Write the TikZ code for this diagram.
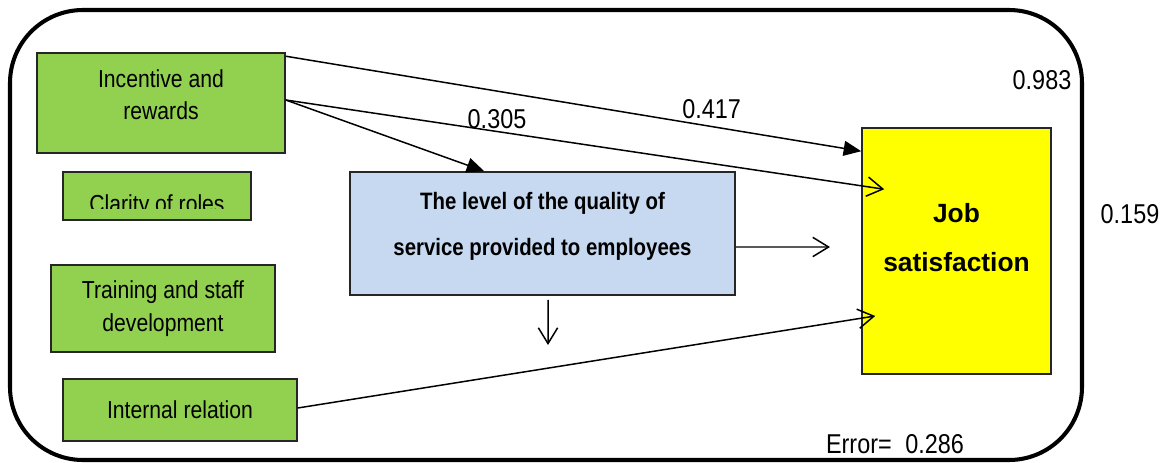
\documentclass[tikz,border=0pt]{standalone}
\usepackage{fontspec}
\setmainfont{Liberation Sans}[FakeStretch=0.86]
\newfontfamily\jobfont{Liberation Sans}
\usepackage{tikz}
\usetikzlibrary{positioning,calc,arrows.meta}
\definecolor{boxgreen}{HTML}{92D050}
\definecolor{boxblue}{HTML}{C6D9F1}
\definecolor{boxyellow}{HTML}{FFFF00}
\tikzset{factor/.style={draw=black!85, line width=0.9pt, fill=boxgreen, align=center, inner sep=0pt, font=\fontsize{14}{18.7}\selectfont}}
\tikzset{mediator/.style={draw=black!85, line width=0.9pt, fill=boxblue, align=center, inner sep=0pt, font=\fontsize{13.5}{26}\selectfont\bfseries}}
\tikzset{outcome/.style={draw=black!85, line width=0.9pt, fill=boxyellow, align=center, inner sep=0pt, font=\jobfont\fontsize{15}{27.8}\selectfont\bfseries}}
\tikzset{coef/.style={inner sep=0pt, font=\fontsize{15.5}{18}\selectfont}}
\tikzset{solidarr/.style={draw, line width=0.85pt, -{Triangle[length=10pt, width=8.5pt]}}}
\tikzset{openarr/.style={draw, line width=0.85pt, -{Straight Barb[length=9pt, width=11pt]}}}

\begin{document}
\begin{tikzpicture}[x=0.02cm, y=-0.02cm]
	\useasboundingbox (0,0) rectangle (1171,463);
	\draw[line width=2.3pt, rounded corners=1.46cm] (10,10) rectangle (1082,460);

	\node[factor, minimum width=4.96cm, minimum height=2cm, text depth=9.6pt](incent) at (161,103) {Incentive and\\ rewards};
	\node[factor, minimum width=3.76cm, minimum height=0.96cm](clarity) at (157,196) {};
	\begin{scope}
		\clip (clarity.north west) rectangle ($(clarity.east)+(0,12)$);
		\node[coef, font=\fontsize{14}{18.7}\selectfont, anchor=base](claritytext) at ($(clarity.center)+(0,16)$) {Clarity of roles};
	\end{scope}
	\node[factor, minimum width=4.48cm, minimum height=1.74cm](training) at (163,308.5) {Training and staff\\ development};
	\node[factor, minimum width=4.68cm, minimum height=1.24cm](internal) at (180,410) {Internal relation};
	\node[mediator, minimum width=7.7cm, minimum height=2.46cm, text depth=11.3pt](quality) at (542.5,233.5) {The level of the quality of\\ service provided to employees};
	\node[outcome, minimum width=3.78cm, minimum height=4.92cm, text depth=15.9pt](job) at (956.5,251) {Job\\ satisfaction};

	\coordinate (qend) at (830,247);
	\coordinate (dend) at (548,345);

	\draw[solidarr] ($(incent.north east)+(0,4)$) --
		node[coef, above, pos=0.74, yshift=4pt]{0.417}
		($(job.north west)+(0,24)$);
	\draw[openarr] ($(incent.east)+(0,-3)$) --
		node[coef, pos=0.353, yshift=7pt]{0.305}
		($(job.north west)+(23,62)$);
	\draw[solidarr] ($(incent.east)+(0,-3)$) -- ($(quality.north west)+(135,0)$);
	\draw[openarr] ($(quality.east)+(0,13.5)$) -- (qend);
	\draw[openarr] ($(quality.south)+(5.5,4)$) -- (dend);
	\draw[openarr] ($(internal.east)+(0,-2)$) -- ($(job.west)+(14,65)$);

	\node[coef](rsq) at (1042,80) {0.983};
	\node[coef](beta) at (1130,214) {0.159};
	\node[coef](err) at (895,444) {Error=\hspace{4pt} 0.286};
\end{tikzpicture}
\end{document}
